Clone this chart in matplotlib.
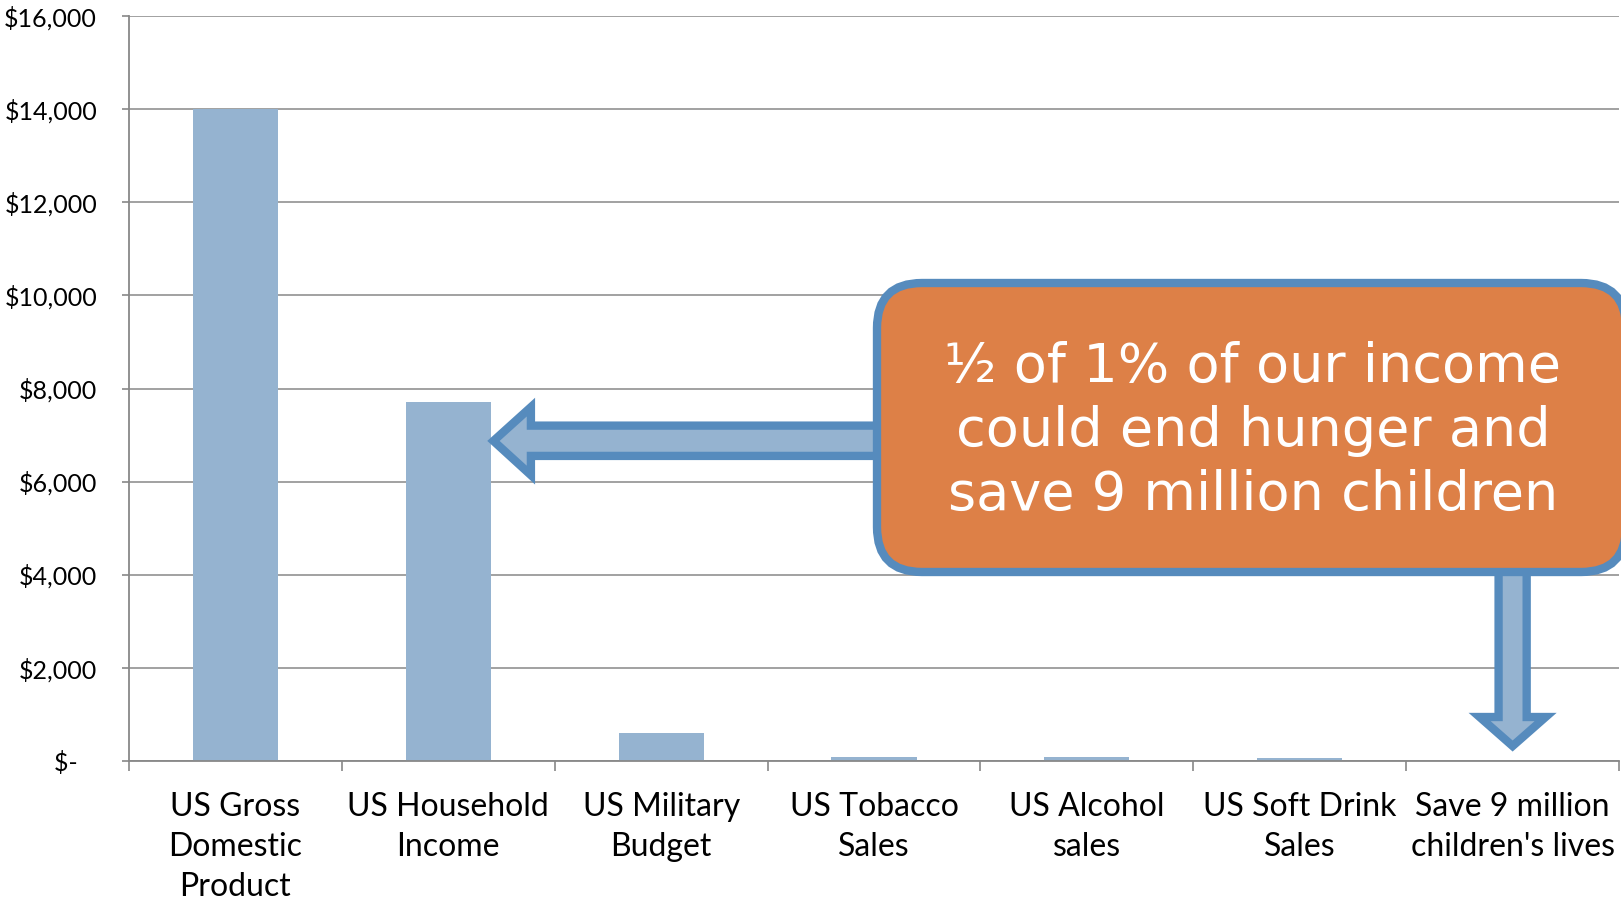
import matplotlib.pyplot as plt
from matplotlib.patches import Polygon, FancyBboxPatch

# spending, billions of dollars
categories = ["US Gross\nDomestic\nProduct", "US Household\nIncome", "US Military\nBudget",
              "US Tobacco\nSales", "US Alcohol\nsales", "US Soft Drink\nSales",
              "Save 9 million\nchildren's lives"]
values = [14000, 7700, 600, 88, 86, 64, 0]
yticks = [0, 2000, 4000, 6000, 8000, 10000, 12000, 14000, 16000]
ytick_labels = ["$-   ", "$2,000", "$4,000", "$6,000", "$8,000", "$10,000",
                "$12,000", "$14,000", "$16,000"]
callout = "½ of 1% of our income\ncould end hunger and\nsave 9 million children"

bar_blue = "#95b3d0"
edge_blue = "#568bbd"
box_orange = "#dd8047"
grid_gray = "#888888"

plt.rcParams['font.family'] = ['Lato', 'DejaVu Sans']

fig = plt.figure(figsize=(16.21, 8.99), dpi=100)
ax = fig.add_axes([0.0796, 0.1535, 0.9192, 0.8287])

x = range(len(categories))
ax.bar(x, values, width=0.4, color=bar_blue, zorder=2)
ax.set_xlim(-0.5, len(categories) - 0.5)
ax.set_ylim(0, 16000)

ax.set_yticks(yticks)
ax.set_yticklabels(ytick_labels, fontsize=18)
ax.set_xticks(list(x))
ax.set_xticklabels(categories, fontsize=23, linespacing=1.43)
ax.set_xticks([i - 0.5 for i in range(len(categories) + 1)], minor=True)
ax.tick_params(axis='x', which='major', length=0, pad=22)
ax.tick_params(axis='x', which='minor', length=7, width=1.2, color=grid_gray, direction='out')
ax.tick_params(axis='y', length=5, width=1.2, color=grid_gray, pad=18)

ax.grid(axis='y', color=grid_gray, lw=1.1, zorder=0)
for side in ['top', 'right']:
    ax.spines[side].set_visible(False)
for side in ['left', 'bottom']:
    ax.spines[side].set_color(grid_gray)
    ax.spines[side].set_linewidth(1.3)

# arrow pointing at household income
left_arrow = [(1.212, 6874), (1.388, 7600), (1.388, 7203), (3.12, 7203),
              (3.12, 6552), (1.388, 6552), (1.388, 6140)]
ax.add_patch(Polygon(left_arrow, closed=True, facecolor=bar_blue, edgecolor=edge_blue,
                     lw=6, joinstyle='miter', zorder=3, clip_on=False))

# arrow pointing down at the last category
c = 6.0
down_arrow = [(c - 0.066, 4318), (c + 0.066, 4318), (c + 0.066, 945), (c + 0.155, 945),
              (c, 322), (c - 0.155, 945), (c - 0.066, 945)]
ax.add_patch(Polygon(down_arrow, closed=True, facecolor=bar_blue, edgecolor=edge_blue,
                     lw=6, joinstyle='miter', zorder=3, clip_on=False))

# callout box, in figure inches so the corners stay round
box = FancyBboxPatch((8.77, 3.27), 7.49, 2.89, boxstyle="round,pad=0,rounding_size=0.45",
                     facecolor=box_orange, edgecolor=edge_blue, lw=6,
                     transform=fig.dpi_scale_trans, zorder=4, clip_on=False)
fig.add_artist(box)
fig.text(12.53 / 16.21, (899 - 431) / 899, callout, ha='center', va='center',
         color='white', fontsize=39, family=['DejaVu Sans'], linespacing=1.29, zorder=5)

plt.savefig('out.png', dpi=100)
